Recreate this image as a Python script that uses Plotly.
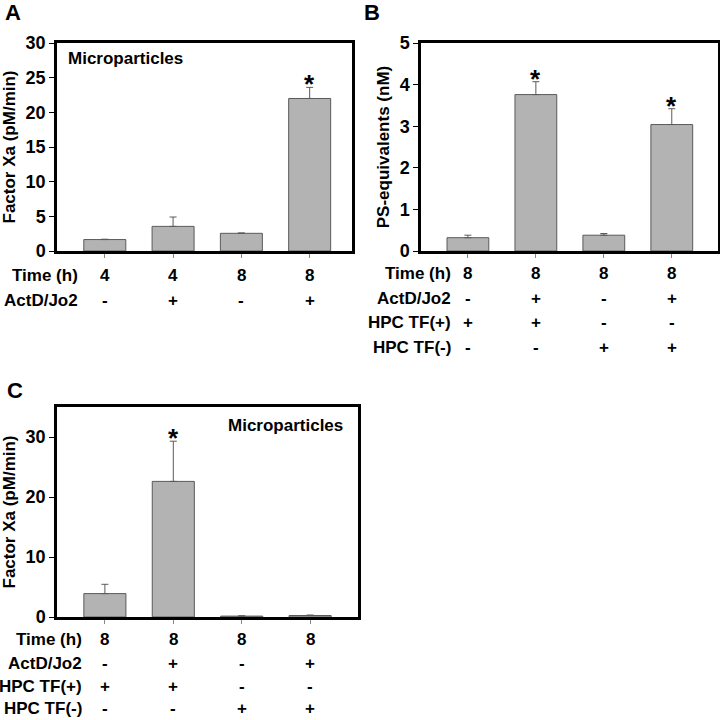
import plotly.graph_objects as go

# ---- data ----
a_vals = [1.65, 3.55, 2.55, 22.0]
a_err = [0.05, 1.35, 0.05, 1.6]
a_sig = [False, False, False, True]
a_time = ["4", "4", "8", "8"]
a_actd = ["-", "+", "-", "+"]

b_vals = [0.32, 3.76, 0.38, 3.04]
b_err = [0.06, 0.31, 0.04, 0.38]
b_sig = [False, True, False, True]
b_time = ["8", "8", "8", "8"]
b_actd = ["-", "+", "-", "+"]
b_tfp = ["+", "+", "-", "-"]
b_tfm = ["-", "-", "+", "+"]

c_vals = [3.9, 22.6, 0.15, 0.25]
c_err = [1.55, 6.7, 0.05, 0.08]
c_sig = [False, True, False, False]
c_time = ["8", "8", "8", "8"]
c_actd = ["-", "+", "-", "+"]
c_tfp = ["+", "+", "-", "-"]
c_tfm = ["-", "-", "+", "+"]

pos = [0, 1, 2, 3]

FONT = "Liberation Sans, Arial, Helvetica, sans-serif"
BAR_FILL = "#b3b3b3"
BAR_LINE = "#5a5a5a"

W = H = 720


def px(x):
    return x / W


def py(y):
    return 1 - y / H


fig = go.Figure()


def add_bars(vals, err, xa, ya):
    fig.add_trace(go.Bar(
        x=pos, y=vals, width=0.615,
        marker=dict(color=BAR_FILL, line=dict(color=BAR_LINE, width=1)),
        error_y=dict(type="data", symmetric=False, array=err,
                     arrayminus=[0] * len(err), color=BAR_LINE,
                     thickness=1, width=3.5),
        xaxis=xa, yaxis=ya, showlegend=False, hoverinfo="skip",
    ))


add_bars(a_vals, a_err, "x", "y")
add_bars(b_vals, b_err, "x2", "y2")
add_bars(c_vals, c_err, "x3", "y3")

frame = dict(showline=True, linecolor="black", linewidth=2.5, mirror=True,
             showgrid=False, zeroline=False)
xcommon = dict(frame, tickvals=pos, ticks="outside", ticklen=4,
               tickcolor="#888888", tickwidth=1, showticklabels=False)
ycommon = dict(frame, ticks="outside", ticklen=5, tickcolor="black",
               tickwidth=1,
               tickfont=dict(family=FONT, size=18, color="black", weight="bold"))
title_font = dict(family=FONT, size=17, color="black", weight="bold")

fig.update_layout(
    autosize=True, margin=dict(l=0, r=0, t=0, b=0, autoexpand=False),
    paper_bgcolor="white", plot_bgcolor="white",
    xaxis=dict(xcommon, domain=[px(57), px(352)], range=[-0.7, 3.62],
               anchor="y"),
    yaxis=dict(ycommon, domain=[py(251), py(43)], range=[0, 30],
               tickvals=[0, 5, 10, 15, 20, 25, 30], anchor="x",
               title=dict(text="Factor Xa (pM/min)", font=title_font,
                          standoff=6)),
    xaxis2=dict(xcommon, domain=[px(421), px(718)], range=[-0.69, 3.68],
                anchor="y2"),
    yaxis2=dict(ycommon, domain=[py(251), py(43)], range=[0, 5],
                tickvals=[0, 1, 2, 3, 4, 5], anchor="x2",
                title=dict(text="PS-equivalents (nM)", font=title_font,
                           standoff=6)),
    xaxis3=dict(xcommon, domain=[px(57), px(358)], range=[-0.7, 3.7],
                anchor="y3"),
    yaxis3=dict(ycommon, domain=[py(617), py(407)], range=[0, 35],
                tickvals=[0, 10, 20, 30], anchor="x3",
                title=dict(text="Factor Xa (pM/min)", font=title_font,
                           standoff=6)),
)

ann = []
lab_font = dict(family=FONT, size=17, color="black", weight="bold")


def table(xref, rows, labels, ys, label_right):
    for row, lab, yy in zip(rows, labels, ys):
        ann.append(dict(xref="paper", yref="paper", x=px(label_right),
                        y=py(yy), text=lab, showarrow=False,
                        xanchor="right", yanchor="middle", font=lab_font))
        for p, v in zip(pos, row):
            ann.append(dict(xref=xref, yref="paper", x=p, y=py(yy), text=v,
                            showarrow=False, xanchor="center",
                            yanchor="middle", font=lab_font))


table("x", [a_time, a_actd], ["Time (h)", "ActD/Jo2"], [275, 300], 80)
table("x2", [b_time, b_actd, b_tfp, b_tfm],
      ["Time (h)", "ActD/Jo2", "HPC TF(+)", "HPC TF(-)"],
      [273, 298, 322, 347], 453)
table("x3", [c_time, c_actd, c_tfp, c_tfm],
      ["Time (h)", "ActD/Jo2", "HPC TF(+)", "HPC TF(-)"],
      [639, 663, 686, 708], 84)


def stars(xref, yref, vals, err, sig):
    for p, v, e, s in zip(pos, vals, err, sig):
        if s:
            ann.append(dict(xref=xref, yref=yref, x=p, y=v + e, text="*",
                            showarrow=False, xanchor="center",
                            yanchor="bottom", yshift=-14,
                            font=dict(family=FONT, size=26, color="black",
                                      weight="bold")))


stars("x", "y", a_vals, a_err, a_sig)
stars("x2", "y2", b_vals, b_err, b_sig)
stars("x3", "y3", c_vals, c_err, c_sig)

ann.append(dict(xref="paper", yref="paper", x=px(66), y=py(58),
                text="Microparticles", showarrow=False, xanchor="left",
                yanchor="middle", font=lab_font))
ann.append(dict(xref="paper", yref="paper", x=px(345), y=py(425),
                text="Microparticles", showarrow=False, xanchor="right",
                yanchor="middle", font=lab_font))

letter_font = dict(family=FONT, size=22, color="black", weight="bold")
for t, x, y in [("A", 3, 12), ("B", 362, 12), ("C", 5, 391)]:
    ann.append(dict(xref="paper", yref="paper", x=px(x), y=py(y), text=t,
                    showarrow=False, xanchor="left", yanchor="middle",
                    font=letter_font))

fig.update_layout(annotations=ann)
fig.write_html(
    "out.html",
    config={"displayModeBar": False, "responsive": True},
    default_width="100vw",
    default_height="100vh",
    post_script="document.documentElement.style.margin='0';"
                "document.documentElement.style.overflow='hidden';"
                "document.body.style.margin='0';"
                "document.body.style.overflow='hidden';"
                "window.dispatchEvent(new Event('resize'));",
)
